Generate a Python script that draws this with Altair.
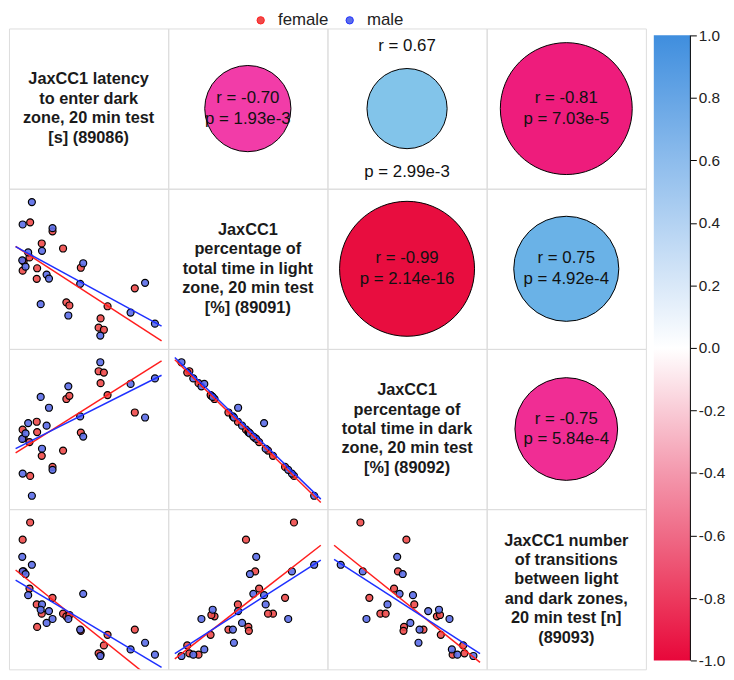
import math
import altair as alt
import pandas as pd

# ---------------- data ----------------
sex = ["female"] * 17 + ["male"] * 17
latency = [95, 265, 183, 345, 45, 90, 38, 148, 145, 480, 890, 370, 393, 683, 630, 615, 655,
           108, 38, 265, 185, 80, 35, 60, 220, 238, 498, 475, 968, 175, 385, 858, 628, 1043]
pct_light = [48.3, 44.9, 40.3, 38.4, 33.5, 35.0, 30.0, 30.9, 26.9, 31.1, 23.3, 18.0, 16.8, 16.5, 11.9, 8.4, 7.6,
             56.0, 47.5, 46.1, 37.5, 36.9, 33.9, 31.5, 28.5, 27.0, 32.8, 25.0, 25.4, 17.3, 13.0, 14.1, 5.4, 9.9]
pct_dark = [47.5, 50.9, 55.1, 57.1, 61.8, 60.3, 65.0, 64.1, 68.0, 63.9, 71.5, 76.6, 77.8, 78.1, 82.6, 87.1, 86.6,
            40.0, 48.4, 49.8, 57.8, 67.5, 61.5, 63.6, 66.5, 73.3, 62.4, 70.0, 69.6, 77.4, 81.4, 82.3, 90.5, 84.4]
transitions = [109, 52, 40, 40, 72, 59, 96, 30, 47, 27, 28, 38, 39, 24, 9, 10, 16,
               77, 72, 36, 47, 54, 83, 70, 33, 42, 55, 28, 18, 43, 36, 13, 8, 9]

variables = ["latency", "pct_light", "pct_dark", "transitions"]
var_labels = [
    ["JaxCC1 latency", "to enter dark", "zone, 20 min test", "[s] (89086)"],
    ["JaxCC1", "percentage of", "total time in light", "zone, 20 min test", "[%] (89091)"],
    ["JaxCC1", "percentage of", "total time in dark", "zone, 20 min test", "[%] (89092)"],
    ["JaxCC1 number", "of transitions", "between light", "and dark zones,", "20 min test [n]", "(89093)"],
]

# correlations for the upper triangle (row, col)
corr_cells = [(0, 1), (0, 2), (0, 3), (1, 2), (1, 3), (2, 3)]
r_values = [-0.70, 0.67, -0.81, -0.99, 0.75, -0.75]
p_values = [1.93e-3, 2.99e-3, 7.03e-5, 2.14e-16, 4.92e-4, 5.84e-4]

sex_domain = ["female", "male"]
colorbar_ticks = [-1.0, -0.8, -0.6, -0.4, -0.2, 0.0, 0.2, 0.4, 0.6, 0.8, 1.0]

# ---------------- styling ----------------
W, H = 161, 162
FONT = "Liberation Sans"
PT_RED, PT_BLUE = "#EE4A4A", "#5B6DE8"
LN_RED, LN_BLUE = "#FF1E1E", "#1E30FF"
BORDER = "#BCC8C8"
MAX_D = 154.0
NLP_CAP = 4.25
LH = 19.6

df = pd.DataFrame({"sex": sex, "latency": latency, "pct_light": pct_light,
                   "pct_dark": pct_dark, "transitions": transitions})

dom, ext = {}, {}
for v in variables:
    lo, hi = min(df[v]), max(df[v])
    rng = hi - lo
    dom[v] = [lo - 0.1 * rng, hi + 0.1 * rng]
    ext[v] = [lo - 0.05 * rng, hi + 0.05 * rng]

color_enc = alt.Color(
    "sex:N",
    scale=alt.Scale(domain=sex_domain, range=[PT_RED, PT_BLUE]),
    legend=alt.Legend(title=None, orient="none", legendX=246, legendY=-17,
                      direction="horizontal", symbolType="circle", symbolSize=55,
                      symbolStrokeColor="black", symbolStrokeWidth=1, symbolOpacity=1,
                      labelFontSize=17, labelFont=FONT, labelColor="#222222",
                      labelOffset=9, columnPadding=12, padding=0),
)
stroke_enc = alt.Stroke("sex:N", scale=alt.Scale(domain=sex_domain, range=[LN_RED, LN_BLUE]),
                        legend=None)


def scatter(vx, vy):
    X = alt.X(f"{vx}:Q", scale=alt.Scale(domain=dom[vx], nice=False, zero=False), axis=None)
    Y = alt.Y(f"{vy}:Q", scale=alt.Scale(domain=dom[vy], nice=False, zero=False), axis=None)
    base = alt.Chart(df)
    pts = base.mark_circle(size=50, opacity=1, fillOpacity=0.9, stroke="black",
                           strokeWidth=1.2).encode(x=X, y=Y, color=color_enc)
    lines = base.transform_regression(vx, vy, groupby=["sex"], extent=ext[vx]).mark_line(
        clip=True, strokeWidth=1.5).encode(x=X, y=Y, stroke=stroke_enc)
    return alt.layer(pts, lines).properties(width=W, height=H)


def fmt_p(p):
    m, e = f"{p:.2e}".split("e")
    return f"p = {m}e{int(e)}"


def corr_panel(k):
    r, p = r_values[k], p_values[k]
    d = pd.DataFrame({"r": [r], "p": [p], "rl": [f"r = {r:.2f}"], "pl": [fmt_p(p)]})
    nlp = -math.log10(p)
    diam = min(nlp, NLP_CAP) / NLP_CAP * MAX_D
    circ = alt.Chart(d).transform_calculate(nlp="-log(datum.p)/LN10").mark_circle(
        opacity=1, stroke="black", strokeWidth=1).encode(
        x=alt.value(W / 2), y=alt.value(H / 2),
        size=alt.Size("nlp:Q", scale=alt.Scale(type="pow", exponent=2, domain=[0, NLP_CAP],
                                               range=[0, math.pi / 4 * MAX_D ** 2], clamp=True),
                      legend=None),
        fill=alt.Fill("r:Q", scale=alt.Scale(
            domain=[-1, -0.81, -0.7, 0, 0.67, 0.75, 1],
            range=["#E80C3C", "#EE1C7C", "#F23CA8", "#FFFFFF", "#82C4EA", "#6AB2E7", "#3F8EDE"],
            interpolate="rgb"), legend=None),
    )
    if diam >= 94:
        y_r, y_p = H / 2 - 10.5, H / 2 + 10.5
    else:
        y_r, y_p = H / 2 - diam / 2 - 18, H / 2 + diam / 2 + 18
    txt = dict(fontSize=17, font=FONT, color="#111111", align="center", baseline="middle")
    t1 = alt.Chart(d).mark_text(**txt).encode(x=alt.value(W / 2), y=alt.value(y_r), text="rl:N")
    t2 = alt.Chart(d).mark_text(**txt).encode(x=alt.value(W / 2), y=alt.value(y_p), text="pl:N")
    return alt.layer(circ, t1, t2).properties(width=W, height=H)


def diag_panel(i):
    d = pd.DataFrame({"v": [variables[i]]})
    n = len(var_labels[i])
    return alt.Chart(d).mark_text(
        text=var_labels[i], fontSize=16.5, fontWeight="bold", font=FONT, color="#1a1a1a",
        lineHeight=LH, align="center", baseline="middle").encode(
        x=alt.value(W / 2), y=alt.value(H / 2 - (n - 1) * LH / 2)).properties(width=W, height=H)


panels = []
for i in range(4):
    for j in range(4):
        if i == j:
            panels.append(diag_panel(i))
        elif i > j:
            panels.append(scatter(variables[j], variables[i]))
        else:
            panels.append(corr_panel(corr_cells.index((i, j))))
grid = alt.concat(*panels, columns=4, spacing=0, bounds="flush").resolve_scale(
    x="independent", y="independent")

# ---------------- colour bar ----------------
cb = pd.DataFrame({"lo": [-1.0], "hi": [1.0]})
grad_stops = [(0.0, "#E8073A"), (0.1, "#EC3A5E"), (0.2, "#EF6A86"), (0.3, "#F498AD"),
              (0.4, "#F9CBD6"), (0.5, "#FFFFFF"), (0.6, "#D9E8F8"), (0.7, "#B3D2F2"),
              (0.8, "#8DBCEC"), (0.9, "#66A5E5"), (1.0, "#3F8EDE")]
CBW = 37
cb_scale = alt.Scale(domain=[-1.028, 1.022], nice=False, zero=False)
bar = alt.Chart(cb).mark_rect(
    color=alt.LinearGradient(gradient="linear",
                             stops=[alt.GradientStop(color=c, offset=o) for o, c in grad_stops],
                             x1=0, x2=0, y1=1, y2=0)).encode(
    y=alt.Y("lo:Q", scale=cb_scale,
            axis=alt.Axis(orient="right", values=colorbar_ticks, title=None, domain=False,
                          grid=False, tickSize=6, tickColor="black", tickWidth=1,
                          labelFontSize=15.5, labelFont=FONT, labelColor="#222222", labelPadding=2,
                          labelExpr="datum.value < -0.001 ? '-' + format(-datum.value, '.1f') : format(abs(datum.value), '.1f')")),
    y2="hi:Q", x=alt.value(0), x2=alt.value(CBW))
rule = alt.Chart(cb).mark_rule(color="black", strokeWidth=1).encode(
    x=alt.value(CBW), y=alt.Y("lo:Q", scale=cb_scale), y2="hi:Q")
colorbar = alt.layer(bar, rule).properties(width=CBW, height=4 * H,
                                           view=alt.ViewBackground(stroke="transparent"))

chart = alt.hconcat(grid, colorbar, spacing=6).resolve_scale(
    x="independent", y="independent").properties(padding=0).configure_view(
    stroke=BORDER, strokeWidth=1.5).configure(font=FONT)

chart.save("out.html", embed_options={"renderer": "svg", "actions": False})
